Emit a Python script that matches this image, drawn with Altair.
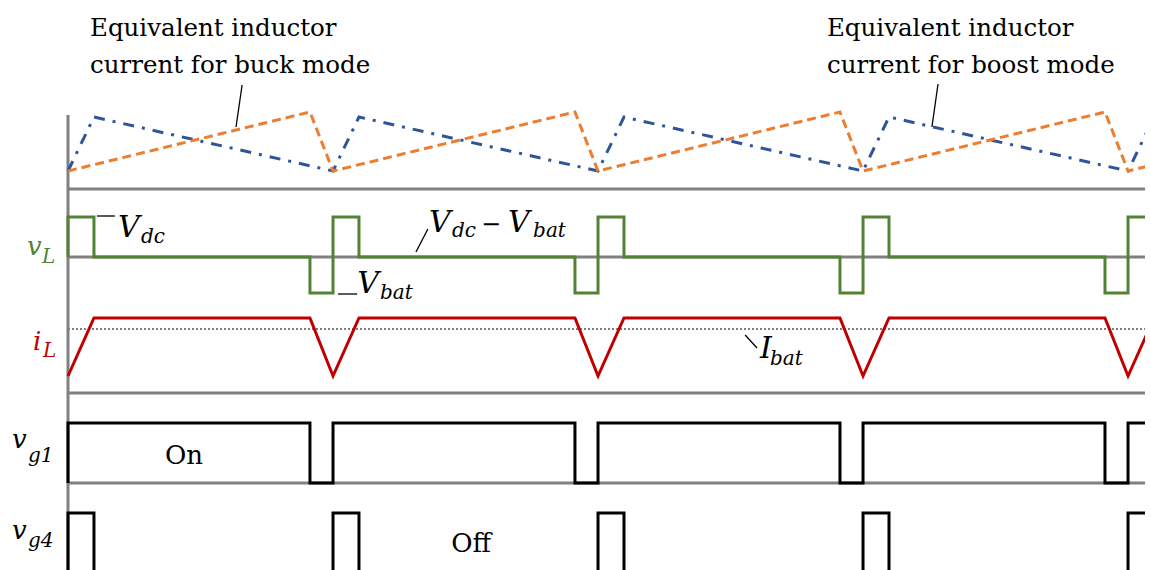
import altair as alt
import pandas as pd

# ---- time base: one switching period = 1 unit -------------------------------
period_starts = [0, 1, 2, 3, 4]
t_short = 0.098   # short interval right after each period start
t_long = 0.913    # start of the short interval before each period end
t_end = 4.064     # right edge of the traces

# ---- panel baselines (vertical units) ----------------------------------------
panel_names = ["currents", "vL", "iL", "vg1", "vg4"]
panel_base = [381, 313, 177, 87, -3]
base = dict(zip(panel_names, panel_base))

# ---- levels of every trace, relative to its own baseline ----------------------
buck_min, buck_max = 18, 77      # equivalent inductor current, buck mode
boost_min, boost_max = 18, 72    # equivalent inductor current, boost mode
vL_high, vL_zero, vL_low = 40, 0, -36
iL_min, iL_max, I_bat = 17, 75, 64
vg_high, vg_low = 60, 0

buck_pts, boost_pts, vL_pts, iL_pts, vg1_pts, vg4_pts = [], [], [], [], [], []
for k in period_starts:
    buck_pts += [(k, buck_min), (k + t_long, buck_max)]
    boost_pts += [(k, boost_min), (k + t_short, boost_max)]
    iL_pts += [(k, iL_min), (k + t_short, iL_max), (k + t_long, iL_max)]
    vL_pts += [(k, vL_low if k else vL_zero), (k, vL_high), (k + t_short, vL_high),
               (k + t_short, vL_zero), (k + t_long, vL_zero), (k + t_long, vL_low)]
    vg1_pts += [(k, vg_low), (k, vg_high), (k + t_long, vg_high), (k + t_long, vg_low)]
    vg4_pts += [(k, vg_low), (k, vg_high), (k + t_short, vg_high), (k + t_short, vg_low)]


def trace(points, panel):
    return pd.DataFrame({
        "t": [p[0] for p in points],
        "y": [base[panel] + p[1] for p in points],
        "i": list(range(len(points))),
    })


x_scale = alt.Scale(domain=[-8 / 265, t_end], nice=False, zero=False)
y_scale = alt.Scale(domain=[0, 570], nice=False, zero=False)
X = lambda f: alt.X(f, type="quantitative", scale=x_scale, axis=None)
Y = lambda f: alt.Y(f, type="quantitative", scale=y_scale, axis=None)

SERIF = "DejaVu Serif"
MATH = "DejaVu Serif"


def wave(points, panel, color, dash=None, width=3):
    kw = dict(clip=True, color=color, strokeWidth=width, strokeJoin="miter", strokeCap="butt")
    if dash:
        kw["strokeDash"] = dash
    return alt.Chart(trace(points, panel)).mark_line(**kw).encode(
        x=X("t"), y=Y("y"), order=alt.Order("i:Q")
    )


GRAY = "#808080"

# gray baselines of the panels
baselines = pd.DataFrame({"x0": [0] * 4, "x1": [t_end] * 4,
                          "y": [base[p] for p in ["currents", "vL", "iL", "vg1"]]})
base_rules = alt.Chart(baselines).mark_rule(color=GRAY, strokeWidth=3).encode(
    x=X("x0"), x2="x1", y=Y("y"))

# vertical time-origin line
axis_line = alt.Chart(pd.DataFrame({"x": [0], "y0": [0], "y1": [455]})).mark_rule(
    color=GRAY, strokeWidth=3).encode(x=X("x"), y=Y("y0"), y2="y1")

# average battery current (dotted)
ibat_line = alt.Chart(pd.DataFrame({"x0": [0], "x1": [t_end], "y": [base["iL"] + I_bat]})).mark_rule(
    color="black", strokeWidth=1.2, strokeDash=[2, 2]).encode(x=X("x0"), x2="x1", y=Y("y"))

boost_line = wave(boost_pts, "currents", "#2F5597", dash=[11, 8, 3, 8])
buck_line = wave(buck_pts, "currents", "#ED7D31", dash=[9, 5])
vL_line = wave(vL_pts, "vL", "#548235")
iL_line = wave(iL_pts, "iL", "#C00000")
vg1_line = wave(vg1_pts, "vg1", "black")
vg4_line = wave(vg4_pts, "vg4", "black")

# leader lines from labels to traces
leaders = pd.DataFrame({
    "x0": [0.657, 3.283, 0.109, 1.358, 1.019, 2.555],
    "x1": [0.634, 3.260, 0.177, 1.313, 1.091, 2.600],
    "y0": [485, 486, 354, 341, 276, 235],
    "y1": [443, 443, 354, 318, 276, 222],
})
leader_rules = alt.Chart(leaders).mark_rule(color="black", strokeWidth=1.3).encode(
    x=X("x0"), x2="x1", y=Y("y0"), y2="y1")

# plain captions
captions = pd.DataFrame({
    "text": ["Equivalent inductor", "current for buck mode",
             "Equivalent inductor", "current for boost mode"],
    "x": [0.083, 0.083, 2.864, 2.864],
    "y": [534, 497, 534, 497],
})
caption_text = alt.Chart(captions).mark_text(
    font=SERIF, fontSize=24.5, align="left", baseline="alphabetic", color="black"
).encode(x=X("x"), y=Y("y"), text="text:N")

states = pd.DataFrame({"text": ["On", "Off"], "x": [0.438, 1.521], "y": [106, 18]})
state_text = alt.Chart(states).mark_text(
    font=SERIF, fontSize=26, align="center", baseline="alphabetic", color="black"
).encode(x=X("x"), y=Y("y"), text="text:N")

# symbol names: main letters and subscripts
symbols = pd.DataFrame({
    "text": ["v", "i", "v", "v", "V", "V", "V", "V", "I"],
    "x": [-0.155, -0.132, -0.211, -0.211, 0.189, 1.362, 1.660, 1.091, 2.611],
    "y": [315, 220, 122, 31, 333, 338, 338, 277, 212],
    "size": [26, 26, 26, 26, 30, 30, 30, 30, 30],
    "color": ["#548235", "#C00000", "black", "black", "black", "black", "black", "black", "black"],
})
symbol_text = alt.Chart(symbols).mark_text(
    font=MATH, fontStyle="italic", align="left", baseline="alphabetic"
).encode(x=X("x"), y=Y("y"), text="text:N",
         size=alt.Size("size:Q", scale=None), color=alt.Color("color:N", scale=None))

subs = pd.DataFrame({
    "text": ["L", "L", "g1", "g4", "dc", "dc", "bat", "bat", "bat"],
    "x": [-0.098, -0.094, -0.151, -0.151, 0.275, 1.449, 1.755, 1.177, 2.649],
    "y": [307, 213, 108, 23, 327, 333, 333, 271, 205],
    "color": ["#548235", "#C00000", "black", "black", "black", "black", "black", "black", "black"],
})
sub_text = alt.Chart(subs).mark_text(
    font=MATH, fontStyle="italic", fontSize=20, align="left", baseline="alphabetic"
).encode(x=X("x"), y=Y("y"), text="text:N", color=alt.Color("color:N", scale=None))

minus = alt.Chart(pd.DataFrame({"text": ["−"], "x": [1.558], "y": [338]})).mark_text(
    font=MATH, fontSize=24, align="left", baseline="alphabetic", color="black"
).encode(x=X("x"), y=Y("y"), text="text:N")

chart = alt.layer(
    base_rules, ibat_line, axis_line,
    boost_line, buck_line, vL_line, iL_line, vg1_line, vg4_line,
    leader_rules, caption_text, state_text, symbol_text, sub_text, minus,
).properties(
    width=1085, height=570,
    padding={"left": 60, "right": 6, "top": 0, "bottom": 0},
    autosize=alt.AutoSizeParams(type="none"),
    background="white",
).configure_view(stroke=None)

chart.save("out.html", embed_options={"renderer": "svg", "actions": False})
